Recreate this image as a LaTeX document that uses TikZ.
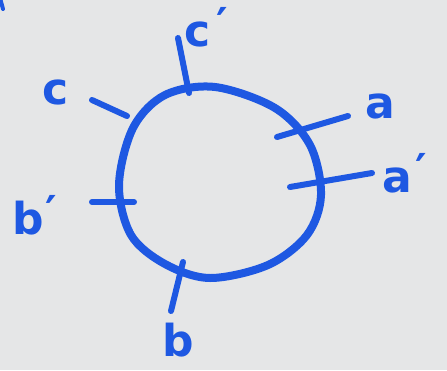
\documentclass[tikz,border=0pt]{standalone}
\usepackage{fontspec}
\setmainfont{DejaVu Sans}
\definecolor{ink}{RGB}{30,88,226}
\definecolor{paper}{RGB}{229,230,231}
\newcommand{\myprime}[1]{\hspace{#1}\raisebox{0.15em}{′}}
\begin{document}
\begin{tikzpicture}[x=1pt,y=-1pt,
  ring/.style={draw=ink,line width=8pt,line cap=round,line join=round},
  tick/.style={draw=ink,line width=6pt,line cap=round},
  lbl/.style={text=ink,font=\bfseries\fontsize{44}{44}\selectfont,inner sep=0pt}]
\fill[paper] (0,0) rectangle (447,370);
\useasboundingbox (0,0) rectangle (447,370);
% small stray stroke at the top-left corner
\draw[tick,line width=4pt] (0,-2) -- (3,9);
% the ring
\draw[ring] plot[smooth cycle,tension=0.55] coordinates {
  (321,195) (310,145) (275,108) (215,87) (165,95) (133,128)
  (119,185) (131,235) (165,264) (210,278) (268,265) (307,235)};
% tick end points
\coordinate (cpA) at (178,38);  \coordinate (cpB) at (189,93);
\coordinate (cA) at (92,100);   \coordinate (cB) at (127,116);
\coordinate (aA) at (277,137);  \coordinate (aB) at (348,116);
\coordinate (apA) at (290,187); \coordinate (apB) at (372,173);
\coordinate (bpA) at (92,202);  \coordinate (bpB) at (134,202);
\coordinate (bA) at (183,262);  \coordinate (bB) at (171,311);
\draw[tick] (cpA) -- (cpB);
\draw[tick] (cA) -- (cB);
\draw[tick] (aA) -- (aB);
\draw[tick] (apA) -- (apB);
\draw[tick] (bpA) -- (bpB);
\draw[tick] (bA) -- (bB);
% labels
\node[lbl,anchor=base west] (lcp) at (184,46) {c\myprime{6pt}};
\node[lbl] (lc) at (56,92) {c};
\node[lbl] (la) at (380,106) {a};
\node[lbl,anchor=base west] (lap) at (382,192) {a\myprime{4pt}};
\node[lbl,anchor=base west] (lbp) at (12,234) {b\myprime{2pt}};
\node[lbl] (lb) at (178,340) {b};
\end{tikzpicture}
\end{document}
